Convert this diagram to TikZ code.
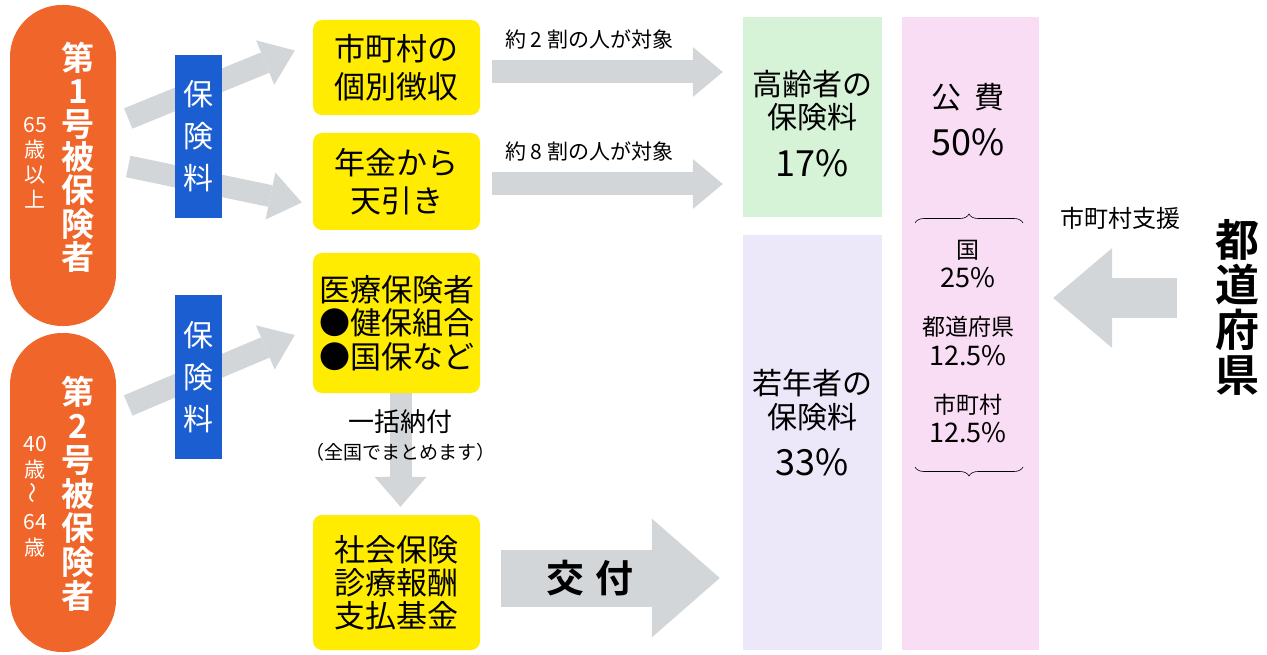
\documentclass[tikz,border=0pt]{standalone}
\usepackage{fontspec}
\setmainfont{Noto Sans CJK JP}[BoldFont={Noto Sans CJK JP Bold}]
\usetikzlibrary{arrows.meta,decorations.pathreplacing,backgrounds}

\newcommand{\fsz}[2]{\fontsize{#1}{#2}\selectfont}

\definecolor{pillorange}{HTML}{F0662A}
\definecolor{feeblue}{HTML}{1B5ED2}
\definecolor{boxyellow}{HTML}{FFEC00}
\definecolor{arrowgray}{HTML}{D3D6D9}
\definecolor{oldgreen}{HTML}{D6F2D7}
\definecolor{younglilac}{HTML}{ECE7F9}
\definecolor{pubpink}{HTML}{F9DDF4}

\tikzset{
    pill/.style={fill=pillorange, rounded corners=52pt, minimum width=106pt, inner sep=0pt},
    pilltext/.style={text=white, align=center, inner sep=0pt},
    feebox/.style={fill=feeblue, text=white, minimum width=47pt, minimum height=163pt,
        inner sep=0pt, align=center, font=\fsz{30}{42}},
    ybox/.style={fill=boxyellow, rounded corners=9pt, minimum width=167pt,
        inner sep=0pt, align=center},
    column/.style={minimum width=139pt, inner sep=0pt},
    fatarrow/.style n args={3}{draw=arrowgray, line width=#1,
        -{Triangle[length=#2,width=#3,line width=0pt]}},
    lbl/.style={inner sep=0pt, align=center},
}

\begin{document}
\begin{tikzpicture}[x=1pt,y=-1pt]
    \useasboundingbox (0,0) rectangle (1267,655);

    % insured persons
    \node[pill, minimum height=321pt] (p1) at (63,165.5) {};
    \node[pilltext, font=\bfseries\fsz{33}{33.2}] (p1t) at (78,157) {第\\1\\号\\被\\保\\険\\者};
    \node[pilltext, font=\fsz{21}{25}] (p1age) at (35,163) {65\\歳\\以\\上};
    \node[pill, minimum height=319pt] (p2) at (63,492.5) {};
    \node[pilltext, font=\bfseries\fsz{33}{34}] (p2t) at (78,494) {第\\2\\号\\被\\保\\険\\者};
    \node[pilltext, font=\fsz{21}{26}] (p2age) at (35,497) {40\\歳\\\rotatebox{90}{〜}\\64\\歳};

    \node[feebox] (fee1) at (198.5,136.5) {保\\険\\料};
    \node[feebox] (fee2) at (198.5,377) {保\\険\\料};

    % collectors
    \node[ybox, minimum height=95pt, font=\fsz{31}{38}] (ind) at (396.5,67.5) {市町村の\\個別徴収};
    \node[ybox, minimum height=97pt, font=\fsz{31}{38}] (pen) at (396.5,181.5) {年金から\\天引き};
    \node[ybox, minimum height=140pt, font=\fsz{31}{33.5}] (med) at (396.5,323) {医療保険者\\●健保組合\\●国保など};
    \node[ybox, minimum height=135pt, font=\fsz{31}{33}] (fund) at (396.5,582.5) {社会保険\\診療報酬\\支払基金};

    \node[lbl, font=\fsz{26}{26}] (bulk) at (400,422) {一括納付};
    \node[lbl, font=\fsz{19}{19}] (bulknote) at (400,452) {（全国でまとめます）};

    % funding columns
    \node[column, fill=oldgreen, minimum height=200pt] (old) at (812.5,117) {};
    \node[column, fill=younglilac, minimum height=415pt] (young) at (812.5,442.5) {};
    \node[column, fill=pubpink, minimum width=137pt, minimum height=633pt] (pub) at (970.5,333.5) {};

    \node[lbl, font=\fsz{30}{33}] (oldt) at (812,101) {高齢者の\\保険料};
    \node[lbl, font=\fsz{36}{36}] (oldp) at (812,163) {17\%};
    \node[lbl, font=\fsz{30}{34}] (youngt) at (812,400) {若年者の\\保険料};
    \node[lbl, font=\fsz{36}{36}] (youngp) at (812,462) {33\%};

    \node[lbl, font=\fsz{30}{30}] (pubt) at (968,97) {公\hspace{14pt}費};
    \node[lbl, font=\fsz{36}{36}] (pubp) at (968,142) {50\%};
    \node[lbl, font=\fsz{23}{23}] (nat) at (968,250) {国};
    \node[lbl, font=\fsz{27}{27}] (natp) at (968,278) {25\%};
    \node[lbl, font=\fsz{23}{23}] (prefs) at (968,327) {都道府県};
    \node[lbl, font=\fsz{27}{27}] (prefp) at (968,356) {12.5\%};
    \node[lbl, font=\fsz{23}{23}] (muni) at (968,405) {市町村};
    \node[lbl, font=\fsz{27}{27}] (munip) at (968,433) {12.5\%};

    \draw[line width=0.6pt, decorate, decoration={brace, amplitude=9pt}] (915,223) -- (1023,223);
    \draw[line width=0.6pt, decorate, decoration={brace, amplitude=9pt}] (1023,467) -- (915,467);

    % prefecture
    \node[lbl, font=\fsz{24}{24}] (aid) at (1120,218) {市町村支援};
    \node[lbl, font=\bfseries\fsz{44}{45}] (pref) at (1237,307) {都\\道\\府\\県};

    \begin{scope}[on background layer]
        \draw[fatarrow={22pt}{32pt}{48pt}] ([xshift=12pt,yshift=47pt]p1.east) -- ([xshift=-18pt,yshift=17pt]ind.west);
        \draw[fatarrow={22pt}{32pt}{48pt}] ([xshift=12pt,yshift=-1pt]p1.east) -- ([xshift=-11pt,yshift=-21pt]pen.west);
        \draw[fatarrow={22pt}{32pt}{48pt}] ([xshift=12pt,yshift=87pt]p2.east) -- ([xshift=-18pt,yshift=-12pt]med.west);

        \draw[fatarrow={23pt}{30pt}{50pt}] ([xshift=12pt,yshift=-4.5pt]ind.east) -- ([xshift=-20pt,yshift=45pt]old.west)
            node[lbl, pos=0.42, above=11pt, font=\fsz{21}{21}] (lab2) {約 2 割の人が対象};
        \draw[fatarrow={23pt}{30pt}{50pt}] ([xshift=12pt,yshift=-2.5pt]pen.east) -- ([xshift=-20pt,yshift=-67pt]old.west)
            node[lbl, pos=0.42, above=11pt, font=\fsz{21}{21}] (lab8) {約 8 割の人が対象};

        \draw[fatarrow={22pt}{30pt}{52pt}] ([xshift=4pt]med.south) -- ([xshift=4pt,yshift=8pt]fund.north);
        \draw[fatarrow={57pt}{68pt}{119pt}] ([xshift=21pt,yshift=4.5pt]fund.east) -- ([xshift=-23pt,yshift=-135.5pt]young.west);

        \draw[fatarrow={40pt}{59pt}{100pt}] ([xshift=-38pt,yshift=9pt]pref.west) -- ([xshift=14pt,yshift=35.5pt]pub.east);
    \end{scope}

    \node[lbl, font=\bfseries\fsz{38}{38}] (grant) at (590,578) {交\hspace{12pt}付};

\end{tikzpicture}
\end{document}
